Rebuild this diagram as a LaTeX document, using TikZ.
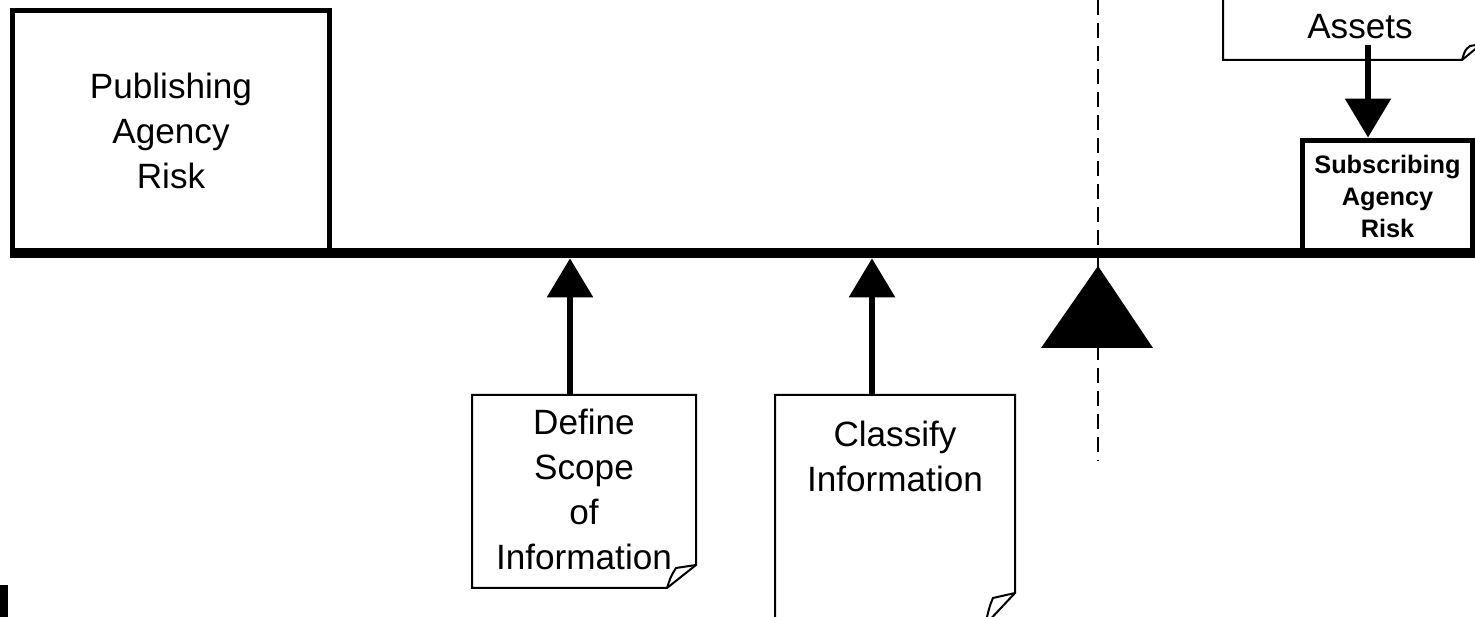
\documentclass[tikz,border=0pt]{standalone}
\usepackage{fontspec}
\setmainfont{Liberation Sans}
\usetikzlibrary{arrows.meta}
\begin{document}
\begin{tikzpicture}[x=0.02cm,y=-0.02cm,
  big/.style={font=\fontsize{20}{25.6}\selectfont,align=center},
  small/.style={font=\fontsize{14.4}{18.2}\selectfont\bfseries,align=center},
  riskbox/.style={draw,line width=0.1cm,inner sep=0pt},
  doc/.style={line width=0.04cm},
  axis/.style={line width=0.05cm,dash pattern=on 0.3cm off 0.16cm},
  lever/.style={line width=0.12cm,-{Triangle[width=0.9cm,length=0.78cm]}}]
\useasboundingbox (0,0) rectangle (1475,617);
\draw[axis] (1098,0) -- (1098,460);
\node[riskbox,big,minimum width=6.36cm,minimum height=4.84cm] (pub) at (171,131) {Publishing\\Agency\\Risk};
\node[riskbox,small,minimum width=3.42cm,minimum height=2.26cm] (sub) at (1387.5,196.5) {Subscribing\\Agency\\Risk};
\node[fill,inner sep=0pt,minimum width=29.4cm,minimum height=0.2cm] (beam) at (745,253) {};
\fill (1098,266) -- (1153,348) -- (1041,348) -- cycle;
% assets
\draw[doc] (1223,-10) -- (1223,60) -- (1462,60) -- (1490,37);
\draw[doc] (1462,60) .. controls (1465,50) .. (1470,46) -- (1482,44);
\node[big] (assets) at (1360,27) {Assets};
\coordinate (assetsarrow) at (1368,45);
\draw[lever] (assetsarrow) -- (assetsarrow |- sub.north);
% documents
\draw[doc] (472,395) -- (696,395) -- (696,565) -- (667,588) -- (472,588) -- cycle;
\draw[doc] (667,588) .. controls (671,576) .. (676,568) -- (696,565);
\node[big] (define) at (584,489) {Define\\Scope\\of\\Information};
\draw[doc] (775,630) -- (775,395) -- (1015,395) -- (1015,593) -- (985,625);
\draw[doc] (1015,593) -- (993,598) .. controls (990,605) .. (987,617);
\node[big] (classify) at (895,456) {Classify\\Information};
\coordinate (definearrow) at (570,395);
\coordinate (classifyarrow) at (872,395);
\draw[lever] (definearrow) -- (definearrow |- beam.south);
\draw[lever] (classifyarrow) -- (classifyarrow |- beam.south);
\fill (0,585) rectangle (8,617);
\end{tikzpicture}
\end{document}
